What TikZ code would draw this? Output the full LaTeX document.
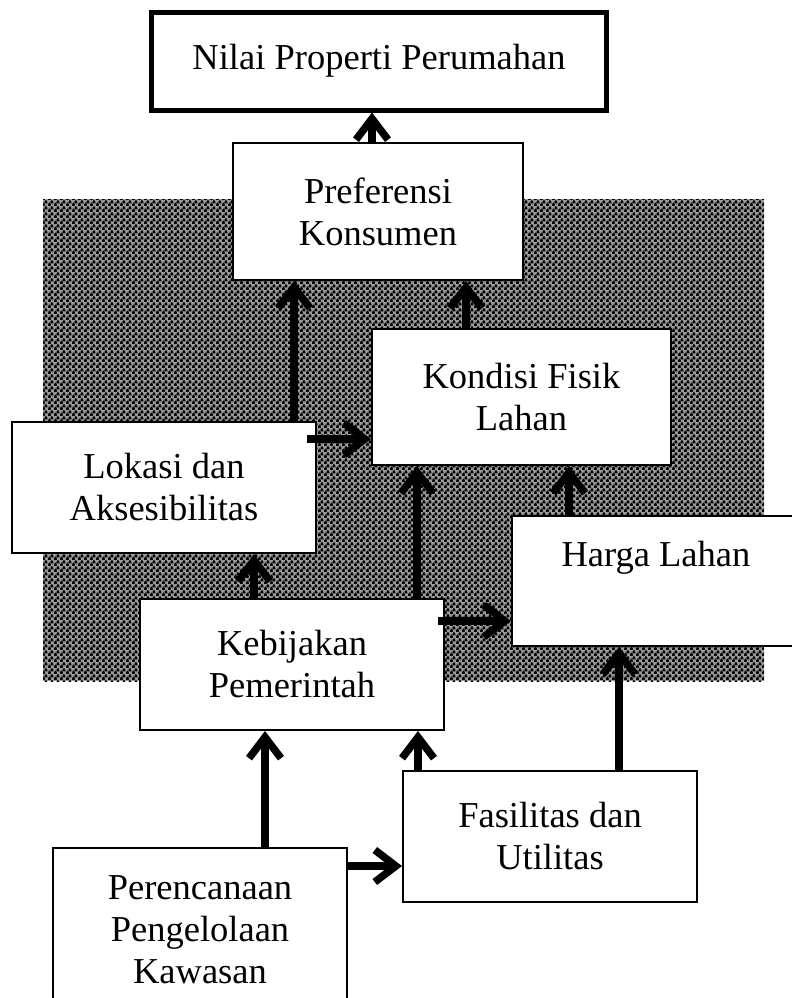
\documentclass[tikz,border=0pt]{standalone}
\usepackage{fontspec}
\setmainfont{Liberation Serif}
\usetikzlibrary{arrows.meta,patterns}

\pgfdeclarepatternformonly{stipple}{\pgfqpoint{0bp}{0bp}}{\pgfqpoint{6bp}{6bp}}{\pgfqpoint{6bp}{6bp}}{%
  \pgfsetlinewidth{2.4bp}\pgfsetroundcap
  \pgfpathmoveto{\pgfqpoint{0.8bp}{0.9bp}}\pgfpathlineto{\pgfqpoint{1.6bp}{2.1bp}}\pgfpathlineto{\pgfqpoint{2.4bp}{0.9bp}}
  \pgfpathmoveto{\pgfqpoint{3.8bp}{3.9bp}}\pgfpathlineto{\pgfqpoint{4.6bp}{5.1bp}}\pgfpathlineto{\pgfqpoint{5.4bp}{3.9bp}}
  \pgfusepath{stroke}}

\tikzset{
  box/.style={draw, line width=2bp, fill=white, inner sep=0pt, align=center,
    font=\fontsize{36.5bp}{42bp}\selectfont},
  arr/.style={line width=7.5bp, -{Straight Barb[length=21bp,width=32bp]}},
  stippled/.style={fill=black!40, postaction={pattern=stipple, pattern color=black}},
}

\begin{document}
\begin{tikzpicture}[x=1bp,y=-1bp]
\useasboundingbox (0,0) rectangle (792,998);
\clip (0,0) rectangle (792,998);
\fill[white] (0,0) rectangle (792,998);

% stippled background area
\path[stippled] (43,199) rectangle (764,681);

% boxes
\node[box, line width=5bp, minimum width=454bp, minimum height=98bp] (nilai) at (379,61) {Nilai Properti Perumahan};
\node[box, minimum width=290bp, minimum height=137bp] (pref) at (378,211.5) {Preferensi\\Konsumen};
\node[box, minimum width=299bp, minimum height=136bp] (kond) at (521.5,397) {Kondisi Fisik\\Lahan};
\node[box, minimum width=304bp, minimum height=131bp] (lok) at (164,487.5) {Lokasi dan\\Aksesibilitas};
\node[box, minimum width=288bp, minimum height=130bp] (harga) at (656,581) {Harga Lahan\\\strut};
\node[box, minimum width=304bp, minimum height=131bp] (keb) at (292,664.5) {Kebijakan\\Pemerintah};
\node[box, minimum width=294bp, minimum height=131bp] (fas) at (550,836.5) {Fasilitas dan\\Utilitas};
\node[box, minimum width=294bp, minimum height=164bp] (per) at (200,930) {Perencanaan\\Pengelolaan\\Kawasan};

% connector start points
\coordinate (lokR) at ([xshift=-10bp,yshift=-18bp]lok.north east);
\coordinate (kebR) at ([xshift=-7bp,yshift=-23bp]keb.north east);
\coordinate (perR) at ([yshift=-19bp]per.north east);

% connectors
\draw[arr] ([xshift=-6bp]pref.north) -- ([xshift=-6bp]pref.north |- nilai.south);
\draw[arr] ([xshift=130bp]lok.north) -- ([xshift=130bp]lok.north |- pref.south);
\draw[arr] ([xshift=-55.5bp]kond.north) -- ([xshift=-55.5bp]kond.north |- pref.south);
\draw[arr] (lokR) -- (lokR -| kond.west);
\draw[arr] ([xshift=125bp]keb.north) -- ([xshift=125bp]keb.north |- kond.south);
\draw[arr] ([xshift=-38bp]keb.north) -- ([xshift=-38bp]keb.north |- lok.south);
\draw[arr] (kebR) -- (kebR -| harga.west);
\draw[arr] ([xshift=-87bp]harga.north) -- ([xshift=-87bp]harga.north |- kond.south);
\draw[arr] ([xshift=69bp]fas.north) -- ([xshift=69bp]fas.north |- harga.south);
\draw[arr] ([xshift=-132bp]fas.north) -- ([xshift=-132bp]fas.north |- keb.south);
\draw[arr] ([xshift=65bp]per.north) -- ([xshift=65bp]per.north |- keb.south);
\draw[arr] (perR) -- (perR -| fas.west);
\end{tikzpicture}
\end{document}
